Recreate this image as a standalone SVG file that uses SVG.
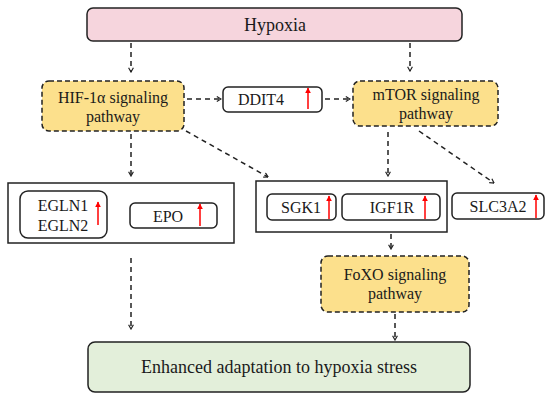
<svg xmlns="http://www.w3.org/2000/svg" width="550" height="400" viewBox="0 0 550 400" font-family="Liberation Serif, Times New Roman, serif">
<defs>
<marker id="ah" viewBox="0 0 10 10" refX="9" refY="5" markerWidth="6" markerHeight="6" markerUnits="userSpaceOnUse" orient="auto">
<polyline points="2,1 9,5 2,9" fill="none" stroke="#222" stroke-width="2"/>
</marker>
<marker id="up" viewBox="0 0 10 10" refX="9" refY="5" markerWidth="6" markerHeight="6" markerUnits="userSpaceOnUse" orient="auto">
<path d="M0,0 L10,5 L0,10 Z" fill="#ff0000"/>
</marker>
</defs>
<style>
text{font-family:'Liberation Serif','Times New Roman',serif;fill:#1a1a1a;text-anchor:middle;font-size:16px}
.big{font-size:18px}
.solid{fill:#fff;stroke:#222;stroke-width:1.5}
.path{fill:#fce08c;stroke:#222;stroke-width:1.5;stroke-dasharray:5,3}
.conn{fill:none;stroke:#222;stroke-width:1.5;stroke-dasharray:5,4;marker-end:url(#ah)}
.red{stroke:#ff0000;stroke-width:1.5;marker-end:url(#up)}
</style>
<rect width="550" height="400" fill="#fff"/>

<g id="hypoxia">
<rect x="87" y="8" width="375" height="33" rx="6" fill="#f6d5dd" stroke="#222" stroke-width="1.5"/>
<text x="275" y="31" class="big">Hypoxia</text>
</g>

<g id="hif">
<rect x="42" y="81" width="142" height="50" rx="7" class="path"/>
<text x="113" y="103">HIF-1α signaling</text>
<text x="113" y="122">pathway</text>
</g>

<g id="ddit4">
<rect x="223" y="87" width="99" height="25" rx="5" class="solid"/>
<text x="261" y="105">DDIT4</text>
<line x1="308" y1="109" x2="308" y2="88" class="red"/>
</g>

<g id="mtor">
<rect x="353" y="81" width="145" height="45" rx="7" class="path"/>
<text x="426" y="100">mTOR signaling</text>
<text x="426" y="119">pathway</text>
</g>

<g id="hif-targets">
<rect x="8" y="183" width="226" height="60" class="solid"/>
<g id="egln">
<rect x="20" y="191" width="87" height="47" rx="8" class="solid"/>
<text x="63" y="211">EGLN1</text>
<text x="63" y="231">EGLN2</text>
<line x1="98" y1="225" x2="98" y2="202" class="red"/>
</g>
<g id="epo">
<rect x="130" y="203" width="87" height="25" rx="5" class="solid"/>
<text x="168" y="222">EPO</text>
<line x1="200" y1="226" x2="200" y2="204" class="red"/>
</g>
</g>

<g id="mtor-targets">
<rect x="256" y="181" width="191" height="51" class="solid"/>
<g id="sgk1">
<rect x="267" y="194" width="69" height="26" rx="5" class="solid"/>
<text x="301" y="213">SGK1</text>
<line x1="329" y1="219" x2="329" y2="196" class="red"/>
</g>
<g id="igf1r">
<rect x="342" y="194" width="98" height="26" rx="5" class="solid"/>
<text x="392" y="213">IGF1R</text>
<line x1="425" y1="219" x2="425" y2="196" class="red"/>
</g>
</g>

<g id="slc3a2">
<rect x="452" y="193" width="92" height="26" rx="5" class="solid"/>
<text x="498" y="212">SLC3A2</text>
<line x1="536" y1="218" x2="536" y2="195" class="red"/>
</g>

<g id="foxo">
<rect x="321" y="256" width="148" height="56" rx="7" class="path"/>
<text x="395" y="280">FoXO signaling</text>
<text x="395" y="299">pathway</text>
</g>

<g id="adaptation">
<rect x="88" y="342" width="382" height="50" rx="7" fill="#e3efda" stroke="#222" stroke-width="1.5"/>
<text x="279" y="373" class="big">Enhanced adaptation to hypoxia stress</text>
</g>

<g id="connectors">
<line x1="131" y1="43" x2="131" y2="72" class="conn"/>
<line x1="410" y1="43" x2="410" y2="71" class="conn"/>
<line x1="187" y1="99" x2="221" y2="99" class="conn"/>
<line x1="325" y1="99" x2="350" y2="99" class="conn"/>
<line x1="131" y1="134" x2="131" y2="176" class="conn"/>
<line x1="186" y1="131" x2="268" y2="177" class="conn"/>
<line x1="388" y1="132" x2="388" y2="176" class="conn"/>
<line x1="419" y1="131" x2="494" y2="183" class="conn"/>
<line x1="131" y1="258" x2="131" y2="329" class="conn" stroke-width="1.2"/>
<line x1="391" y1="234" x2="391" y2="249" class="conn"/>
<line x1="395" y1="314" x2="395" y2="340" class="conn"/>
</g>
</svg>
